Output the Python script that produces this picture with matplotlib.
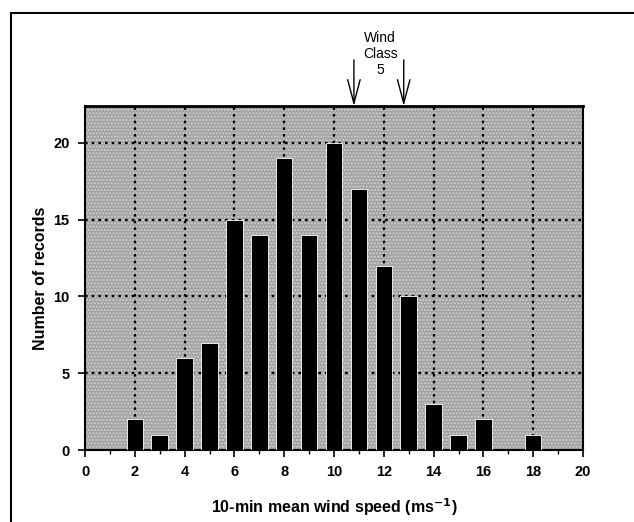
import matplotlib
matplotlib.use("Agg")
import matplotlib.pyplot as plt
from matplotlib.patches import Rectangle
from matplotlib.lines import Line2D

speeds = [2, 3, 4, 5, 6, 7, 8, 9, 10, 11, 12, 13, 14, 15, 16, 18]
counts = [2, 1, 6, 7, 15, 14, 19, 14, 20, 17, 12, 10, 3, 1, 2, 1]
xticks = [0, 2, 4, 6, 8, 10, 12, 14, 16, 18, 20]
yticks = [0, 5, 10, 15, 20]
class_bounds = [10.8, 12.8]

plt.rcParams['font.family'] = ['Liberation Sans', 'DejaVu Sans']

fig = plt.figure(figsize=(6.34, 5.22), dpi=100)
ax = fig.add_axes([85/634, 1-450/522, (583-85)/634, (450-106)/522])
ax.set_facecolor('#a2a2a2')
ax.add_patch(Rectangle((0, 0), 1, 1, transform=ax.transAxes, facecolor='none',
                       edgecolor='#d0d0d0', hatch='.....', linewidth=0, zorder=0.5))

ax.bar(speeds, counts, width=0.66, color='black', edgecolor='white', linewidth=0.6, zorder=3)

ax.set_xlim(0, 20)
ax.set_ylim(0, 22.4)
ax.set_xticks(xticks)
ax.set_xticks(range(0, 21), minor=True)
ax.set_yticks(yticks)
for x in xticks[1:-1]:
    ax.axvline(x, color='black', linestyle=(0, (1.2, 1.8)), linewidth=1.6, zorder=2)
for y in yticks[1:]:
    ax.axhline(y, color='black', linestyle=(0, (1.2, 1.8)), linewidth=1.6, zorder=2)

for s in ax.spines.values():
    s.set_linewidth(1.5)
ax.spines['top'].set_linewidth(2.0)
ax.tick_params(axis='both', which='major', direction='out', length=5, width=1.2,
               labelsize=10.5, pad=6)
ax.tick_params(axis='x', which='minor', direction='out', length=3, width=1.0)
for lab in ax.get_xticklabels() + ax.get_yticklabels():
    lab.set_fontweight('semibold')

ax.set_xlabel('10-min mean wind speed (ms$^{\\mathbf{-1}}$)', fontsize=11.5, fontweight='bold', labelpad=12)
ax.set_ylabel('Number of records', fontsize=11.5, fontweight='bold', labelpad=4)

# Wind class annotation
for xb in class_bounds:
    ax.annotate('', xy=(xb, 22.4), xytext=(xb, 22.4 + 46/15.35),
                xycoords='data', textcoords='data', annotation_clip=False,
                arrowprops=dict(arrowstyle='->,head_length=1.7,head_width=0.45',
                                color='black', linewidth=1.0, shrinkA=0, shrinkB=0))
ax.text(sum(class_bounds)/2 + 0.05, 22.4 + 29/15.35, 'Wind\nClass\n5', ha='center', va='bottom',
        fontsize=10, linespacing=1.2, clip_on=False)

# outer frame lines (left and top)
fig.add_artist(Line2D([11/634, 11/634], [0, 1-13/522], transform=fig.transFigure,
                      color='black', linewidth=1.5))
fig.add_artist(Line2D([11/634, 1], [1-13/522, 1-13/522], transform=fig.transFigure,
                      color='black', linewidth=1.5))

fig.savefig('out.png', dpi=100)
